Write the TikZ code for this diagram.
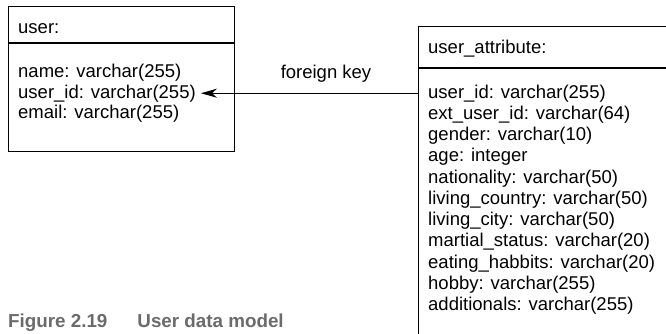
\documentclass[tikz,border=0pt]{standalone}
\usepackage{fontspec}
\setmainfont{Liberation Sans}
\usepackage{xcolor}
\usepackage{tikz}
\usetikzlibrary{positioning,arrows.meta}
\definecolor{captiongrey}{HTML}{6B6B6B}
\newcommand{\fieldfont}{\fontsize{18.5}{21.3}\selectfont}
\newcommand{\captfont}{\fontsize{18.8}{21}\selectfont\bfseries}

\begin{document}
\begin{tikzpicture}[x=1pt,y=-1pt,
    table/.style={draw, line width=1.1pt, inner sep=0pt, anchor=north west},
    field/.style={anchor=base west, inner sep=0pt, font=\fieldfont},
    fk/.style={-{Stealth[length=16pt,width=9pt,inset=5pt]}, line width=1.4pt}]
    \useasboundingbox (0,0) rectangle (666,333);
    \clip (0,0) rectangle (666,333);
    \node[table, minimum width=226.5pt, minimum height=144.5pt] (user) at (7.5,6) {};
    \draw[line width=1.1pt] ([yshift=-37pt]user.north west) -- ([yshift=-37pt]user.north east);
    \node[table, minimum width=300pt, minimum height=340pt] (attr) at (418,26) {};
    \draw[line width=1.1pt] ([yshift=-42pt]attr.north west) -- ([yshift=-42pt]attr.north east);
    \node[field] (userhead) at (18,33) {user:};
    \node[field] (attrhead) at (428,53) {user\_attribute:};
    \foreach \txt/\nm [count=\i from 0] in {name: varchar(255)/uname, user\_id: varchar(255)/uid, email: varchar(255)/uemail}
      \node[field] (\nm) at (18,77.5+20.5*\i) {\txt};
    \foreach \txt [count=\i from 0] in {user\_id: varchar(255), ext\_user\_id: varchar(64), gender: varchar(10),
        age: integer, nationality: varchar(50), living\_country: varchar(50), living\_city: varchar(50),
        martial\_status: varchar(20), eating\_habbits: varchar(20), hobby: varchar(255), additionals: varchar(255)}
      \node[field] (attr\i) at (428,98+21.25*\i) {\txt};
    \draw[fk] (attr.west |- uid.east) -- ([xshift=5pt]uid.east);
    \node[field, anchor=base] (fklabel) at (326,78) {foreign key};
    \node[anchor=base west, inner sep=0pt, font=\captfont, text=captiongrey] (caption) at (8,327)
      {Figure 2.19\hspace{30pt}User data model};
\end{tikzpicture}
\end{document}
